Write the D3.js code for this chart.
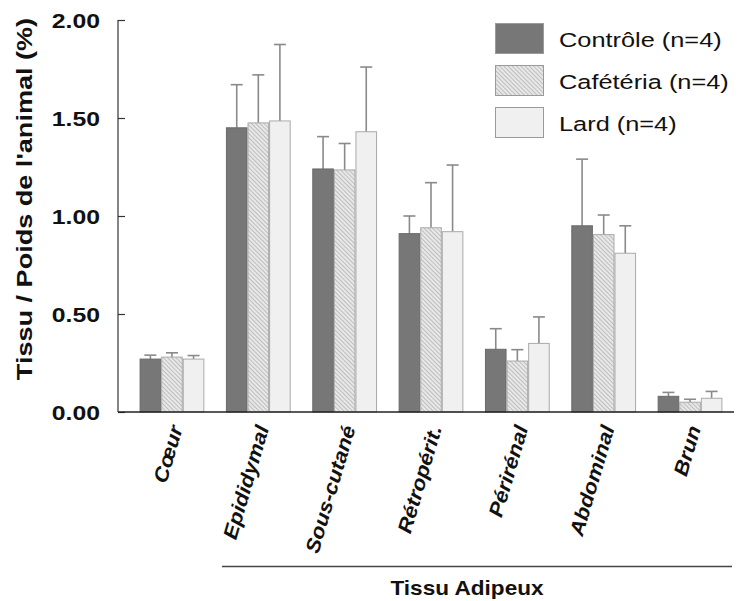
<!DOCTYPE html>
<html>
<head>
<meta charset="utf-8">
<script src="https://cdn.jsdelivr.net/npm/d3@7"></script>
<style>
  html, body { margin: 0; padding: 0; background: #fff; }
  svg text { font-family: "Liberation Sans", Arial, sans-serif; fill: #111; }
</style>
</head>
<body>
<svg id="chart" width="739" height="601"></svg>
<script>
const categories = ["Cœur", "Epididymal", "Sous-cutané", "Rétropérit.", "Périrénal", "Abdominal", "Brun"];
const seriesNames = ["Contrôle (n=4)", "Cafétéria (n=4)", "Lard (n=4)"];
const controle    = [0.27, 1.45, 1.24, 0.91, 0.32, 0.95, 0.08];
const controleErr = [0.02, 0.22, 0.165, 0.09, 0.105, 0.34, 0.02];
const cafeteria   = [0.28, 1.475, 1.235, 0.94, 0.26, 0.905, 0.05];
const cafeteriaErr= [0.022, 0.245, 0.135, 0.23, 0.058, 0.10, 0.015];
const lard        = [0.27, 1.485, 1.43, 0.92, 0.35, 0.81, 0.07];
const lardErr     = [0.018, 0.39, 0.33, 0.34, 0.135, 0.14, 0.035];
const yTicks = [0, 0.5, 1.0, 1.5, 2.0];
const groupLabel = "Tissu Adipeux";
const yTitle = "Tissu / Poids de l'animal (%)";

const series = [
  {name: seriesNames[0], values: controle, errs: controleErr, fill: "#777777", stroke: "#6a6a6a"},
  {name: seriesNames[1], values: cafeteria, errs: cafeteriaErr, fill: "url(#hatch)", stroke: "#aaaaaa"},
  {name: seriesNames[2], values: lard, errs: lardErr, fill: "#f0f0f0", stroke: "#aaaaaa"}
];

const svg = d3.select("#chart");
const defs = svg.append("defs");
const pat = defs.append("pattern").attr("id", "hatch")
  .attr("patternUnits", "userSpaceOnUse").attr("width", 3).attr("height", 3)
  .attr("patternTransform", "rotate(-45)");
pat.append("rect").attr("width", 3).attr("height", 3).attr("fill", "#e8e8e8");
pat.append("line").attr("x1", 0.5).attr("y1", 0).attr("x2", 0.5).attr("y2", 3)
  .attr("stroke", "#bdbdbd").attr("stroke-width", 1);

const axisX = 118, baseY = 412;
const y = d3.scaleLinear().domain([0, 2]).range([baseY, 20]);
const x = d3.scaleBand().domain(categories).range([axisX, 744]).paddingInner(0.25).paddingOuter(0.25);
const xs = d3.scaleBand().domain(d3.range(series.length)).range([0, x.bandwidth()]);

// bars
series.forEach((s, si) => {
  const g = svg.append("g");
  g.selectAll("line.err").data(categories).join("line")
    .attr("x1", d => x(d) + xs(si) + xs.bandwidth() / 2)
    .attr("x2", d => x(d) + xs(si) + xs.bandwidth() / 2)
    .attr("y1", (d, i) => y(s.values[i]))
    .attr("y2", (d, i) => y(s.values[i] + s.errs[i]))
    .attr("stroke", "#8a8a8a").attr("stroke-width", 1.6);
  g.selectAll("line.cap").data(categories).join("line")
    .attr("x1", d => x(d) + xs(si) + xs.bandwidth() / 2 - 6)
    .attr("x2", d => x(d) + xs(si) + xs.bandwidth() / 2 + 6)
    .attr("y1", (d, i) => y(s.values[i] + s.errs[i]))
    .attr("y2", (d, i) => y(s.values[i] + s.errs[i]))
    .attr("stroke", "#8a8a8a").attr("stroke-width", 1.6);
  g.selectAll("rect").data(categories).join("rect")
    .attr("x", d => x(d) + xs(si) + 0.5)
    .attr("y", (d, i) => y(s.values[i]))
    .attr("width", xs.bandwidth() - 1)
    .attr("height", (d, i) => baseY - y(s.values[i]))
    .attr("fill", s.fill).attr("stroke", s.stroke).attr("stroke-width", 1);
});

// y axis
const yAxis = svg.append("g").attr("transform", `translate(${axisX},0)`)
  .call(d3.axisRight(y).tickValues(yTicks).tickSize(7).tickFormat(""));
yAxis.select(".domain").attr("stroke", "#333").attr("stroke-width", 1.2).attr("d", `M0,20V${baseY}`);
yAxis.selectAll(".tick line").attr("stroke", "#333").attr("stroke-width", 1.2);

// tick labels
svg.append("g").selectAll("text").data(yTicks).join("text")
  .attr("transform", d => `translate(100,${y(d) + 7.5}) scale(1.18,1)`)
  .attr("text-anchor", "end")
  .style("font-size", "21px").style("font-weight", "bold")
  .text(d => d3.format(".2f")(d));

// baseline
svg.append("line").attr("x1", axisX).attr("x2", 734).attr("y1", baseY).attr("y2", baseY)
  .attr("stroke", "#222").attr("stroke-width", 1.5);

// y title
svg.append("text")
  .attr("transform", `translate(32,199) rotate(-90) scale(1.23,1)`)
  .attr("text-anchor", "middle")
  .style("font-size", "22px").style("font-weight", "bold")
  .text(yTitle);

// category labels
svg.append("g").selectAll("text").data(categories).join("text")
  .attr("transform", d => `translate(${x(d) + x.bandwidth() / 2 + 11},428) rotate(-73.5) scale(1.1,1)`)
  .attr("text-anchor", "end")
  .style("font-size", "20px").style("font-weight", "bold").style("font-style", "italic")
  .text(d => d);

// group line & label
svg.append("line").attr("x1", 222).attr("x2", 732).attr("y1", 566.5).attr("y2", 566.5)
  .attr("stroke", "#444").attr("stroke-width", 1.3);
svg.append("text")
  .attr("transform", `translate(467,595) scale(1.13,1)`)
  .attr("text-anchor", "middle")
  .style("font-size", "20px").style("font-weight", "bold")
  .text(groupLabel);

// legend
const legY = d3.scalePoint().domain(seriesNames).range([23, 107]);
const leg = svg.append("g");
series.forEach(s => {
  leg.append("rect").attr("x", 495.5).attr("y", legY(s.name) + 0.5).attr("width", 48).attr("height", 30)
    .attr("fill", s.fill).attr("stroke", "#9a9a9a").attr("stroke-width", 1);
  leg.append("text")
    .attr("transform", `translate(559,${legY(s.name) + 24}) scale(1.3,1)`)
    .style("font-size", "19.5px")
    .text(s.name);
});
</script>
</body>
</html>
